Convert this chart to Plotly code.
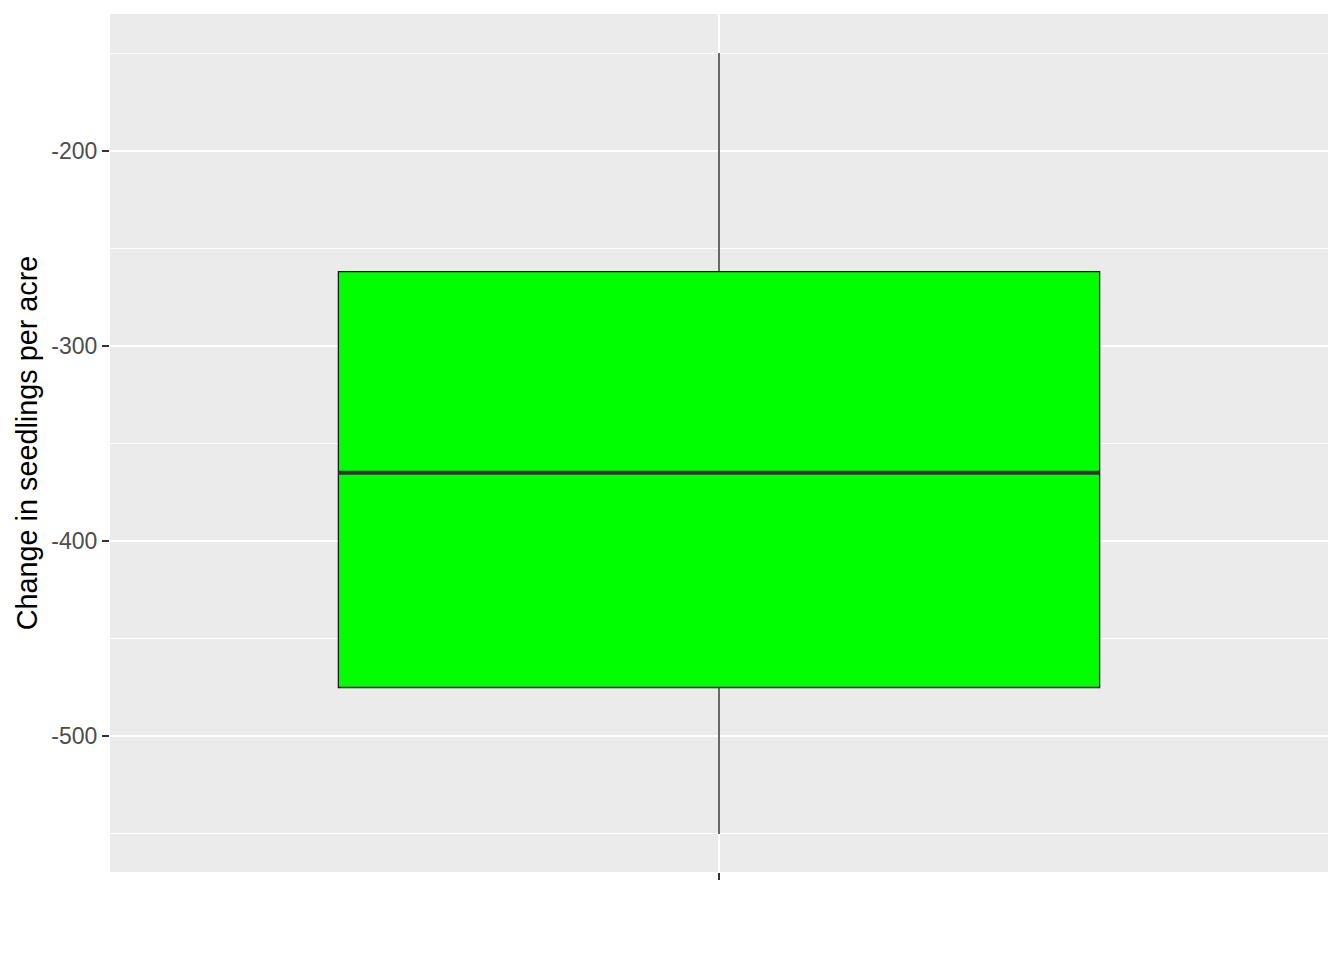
import plotly.graph_objects as go

# Summary statistics of the box
group = [0]
lower_whisker = [-550]
q1_vals = [-475]
median_vals = [-365]
q3_vals = [-262]
upper_whisker = [-150]

y_tick_vals = [-500, -400, -300, -200]
y_tick_text = ["-500", "-400", "-300", "-200"]

BOX_WIDTH = 0.75

fig = go.Figure()
fig.add_trace(go.Box(
    x=group,
    q1=q1_vals, median=median_vals, q3=q3_vals,
    lowerfence=lower_whisker, upperfence=upper_whisker,
    width=BOX_WIDTH,
    whiskerwidth=0,
    fillcolor="#00FF00",
    line=dict(color="#1A1A1A", width=1.3),
    boxpoints=False,
    hoverinfo="skip",
    showlegend=False,
))
# thicker median line like ggplot
fig.add_trace(go.Scatter(
    x=[group[0] - BOX_WIDTH / 2, group[0] + BOX_WIDTH / 2],
    y=[median_vals[0], median_vals[0]],
    mode="lines",
    line=dict(color="#333333", width=4),
    hoverinfo="skip",
    showlegend=False,
))

fig.update_layout(
    width=1344, height=960,
    margin=dict(l=110, r=16, t=14, b=88),
    paper_bgcolor="white",
    plot_bgcolor="#EBEBEB",
    font=dict(family="Liberation Sans, Arial, sans-serif"),
    xaxis=dict(
        range=[-0.6, 0.6],
        tickvals=[0], ticktext=[""],
        showgrid=True, gridcolor="white", gridwidth=2,
        zeroline=False,
        ticks="outside", ticklen=7, tickwidth=2, tickcolor="#333333",
        showline=False,
    ),
    yaxis=dict(
        range=[-569.5, -130],
        tickvals=y_tick_vals, ticktext=y_tick_text,
        tickfont=dict(size=23, color="#4D4D4D"),
        showgrid=True, gridcolor="white", gridwidth=2,
        zeroline=False,
        ticks="outside", ticklen=7, tickwidth=2, tickcolor="#333333",
        minor=dict(dtick=100, tick0=-150, showgrid=True, gridcolor="white", gridwidth=1, ticks=""),
        title=dict(text="Change in seedlings per acre", font=dict(size=28.8, color="black"), standoff=5),
        showline=False,
    ),
)

fig.write_html("out.html")
